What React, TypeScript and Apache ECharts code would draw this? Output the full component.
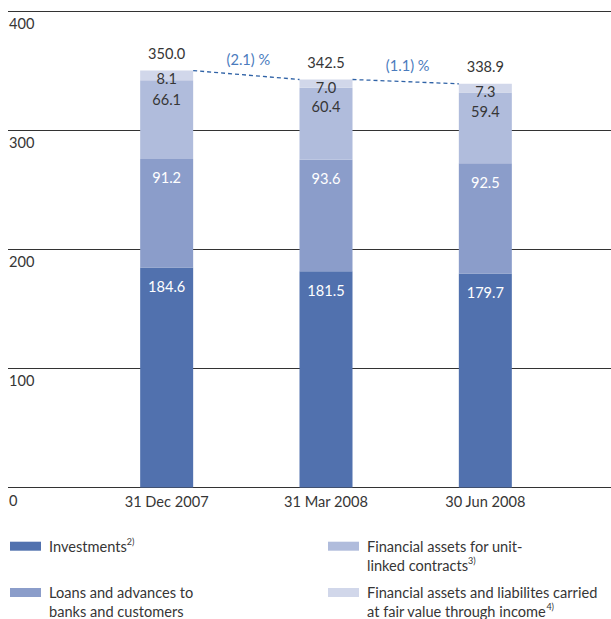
import React, { useEffect, useRef } from "react";
import * as echarts from "echarts";

const categories = ["31 Dec 2007", "31 Mar 2008", "30 Jun 2008"];
const investments = [184.6, 181.5, 179.7];
const loans = [91.2, 93.6, 92.5];
const unitLinked = [66.1, 60.4, 59.4];
const fairValue = [8.1, 7.0, 7.3];
const totals = [350.0, 342.5, 338.9];
const changes = [-2.1, -1.1];
const yTicks = [0, 100, 200, 300, 400];

const NAMES = {
  inv: "Investments",
  loans: "Loans and advances to banks and customers",
  unit: "Financial assets for unit-linked contracts",
  fair: "Financial assets and liabilites carried at fair value through income",
};
const COLORS = ["#5171ae", "#8b9dca", "#b0bcdc", "#d1d7ea"];
const FONT = "Lato, Roboto, sans-serif";
const FS = 14.6;
const TEXT = "#363636";
const BAR_W = 53;

export default function App() {
  const ref = useRef<HTMLDivElement>(null);
  useEffect(() => {
    document.body.style.margin = "0";
    document.body.style.overflow = "hidden";
    const chart = echarts.init(ref.current!, null, { renderer: "svg" });
    const segLabel = (color: string, distance: number) => ({
      show: true,
      position: "insideTop",
      distance,
      color,
      fontSize: FS,
      lineHeight: 18,
      fontFamily: FONT,
      formatter: (p: any) => Number(p.value).toFixed(1),
    });
    const legendText = (pad: number[]) => ({
      fontSize: FS,
      lineHeight: 19,
      color: TEXT,
      fontFamily: FONT,
      padding: pad,
      rich: {
        sup: { fontSize: 9, lineHeight: 14, verticalAlign: "top", color: TEXT, fontFamily: FONT },
      },
    });
    const legendBase = {
      icon: "rect",
      itemWidth: 31,
      itemHeight: 9,
      padding: 0,
      selectedMode: false,
      orient: "vertical",
    };
    const option: any = {
      animation: false,
      textStyle: { fontFamily: FONT },
      grid: [
        { left: 87, right: 46, top: 11, bottom: 131.5 },
        { left: 8, right: 0, top: 11, bottom: 131.5 },
      ],
      xAxis: [
        {
          type: "category",
          gridIndex: 0,
          data: categories,
          axisLine: { show: false },
          axisTick: { show: false },
          axisLabel: { margin: 6, fontSize: FS, color: TEXT, fontFamily: FONT },
        },
        { type: "value", gridIndex: 1, min: 0, max: 1, show: false },
      ],
      yAxis: [
        { type: "value", gridIndex: 0, min: 0, max: 400, interval: 100, show: false },
        {
          type: "value",
          gridIndex: 1,
          min: yTicks[0],
          max: yTicks[yTicks.length - 1],
          interval: 100,
          axisLine: { show: false },
          axisTick: { show: false },
          splitLine: { show: true, lineStyle: { color: "#333333", width: 1 } },
          axisLabel: {
            inside: true,
            margin: 1,
            align: "left",
            verticalAlign: "top",
            padding: [5, 0, 0, 0],
            fontSize: FS,
            color: TEXT,
            fontFamily: FONT,
          },
        },
      ],
      legend: [
        {
          ...legendBase,
          left: 10,
          top: 536.7,
          data: [NAMES.inv],
          formatter: () => "Investments{sup|2)}",
          textStyle: legendText([0, 0, 0, 3]),
        },
        {
          ...legendBase,
          left: 10,
          top: 564,
          data: [NAMES.loans],
          formatter: () => "Loans and advances to\nbanks and customers",
          textStyle: legendText([19, 0, 0, 3]),
        },
        {
          ...legendBase,
          left: 328,
          top: 517.7,
          data: [NAMES.unit],
          formatter: () => "Financial assets for unit-\nlinked contracts{sup|3)}",
          textStyle: legendText([19, 0, 0, 3]),
        },
        {
          ...legendBase,
          left: 328,
          top: 564,
          data: [NAMES.fair],
          formatter: () => "Financial assets and liabilites carried\nat fair value through income{sup|4)}",
          textStyle: legendText([19, 0, 0, 3]),
        },
      ],
      series: [
        {
          name: NAMES.inv,
          type: "bar",
          stack: "a",
          barWidth: BAR_W,
          data: investments,
          itemStyle: { color: COLORS[0] },
          label: segLabel("#ffffff", 10),
        },
        {
          name: NAMES.loans,
          type: "bar",
          stack: "a",
          barWidth: BAR_W,
          data: loans,
          itemStyle: { color: COLORS[1] },
          label: segLabel("#ffffff", 10),
        },
        {
          name: NAMES.unit,
          type: "bar",
          stack: "a",
          barWidth: BAR_W,
          data: unitLinked,
          itemStyle: { color: COLORS[2] },
          label: segLabel(TEXT, 10),
        },
        {
          name: NAMES.fair,
          type: "bar",
          stack: "a",
          barWidth: BAR_W,
          data: fairValue,
          itemStyle: { color: COLORS[3] },
          label: segLabel(TEXT, -1),
        },
        {
          name: "totals",
          type: "custom",
          z: 10,
          silent: true,
          data: totals.map((t, i) => [i, t]),
          renderItem: (params: any, api: any) => {
            const i = params.dataIndex;
            const total = api.value(1);
            const p = api.coord([i, total]);
            const children: any[] = [
              {
                type: "text",
                x: p[0],
                y: p[1] - 17,
                style: {
                  text: Number(total).toFixed(1),
                  align: "center",
                  verticalAlign: "middle",
                  fontSize: FS,
                  fontFamily: FONT,
                  fill: TEXT,
                },
              },
            ];
            if (i < totals.length - 1) {
              const q = api.coord([i + 1, totals[i + 1]]);
              children.push({
                type: "line",
                shape: { x1: p[0] + BAR_W / 2, y1: p[1], x2: q[0] - BAR_W / 2, y2: q[1] },
                style: { stroke: "#2f62a6", lineWidth: 1.3, lineDash: [4, 3] },
              });
              children.push({
                type: "text",
                x: (p[0] + q[0]) / 2 + 2,
                y: (p[1] + q[1]) / 2 - 16,
                style: {
                  text: `(${Math.abs(changes[i]).toFixed(1)}) %`,
                  align: "center",
                  verticalAlign: "middle",
                  fontSize: FS,
                  fontFamily: FONT,
                  fill: "#4a7bbd",
                },
              });
            }
            return { type: "group", children };
          },
        },
      ],
    };
    chart.setOption(option);
    return () => chart.dispose();
  }, []);
  return <div ref={ref} style={{ width: 611, height: 619 }} />;
}
